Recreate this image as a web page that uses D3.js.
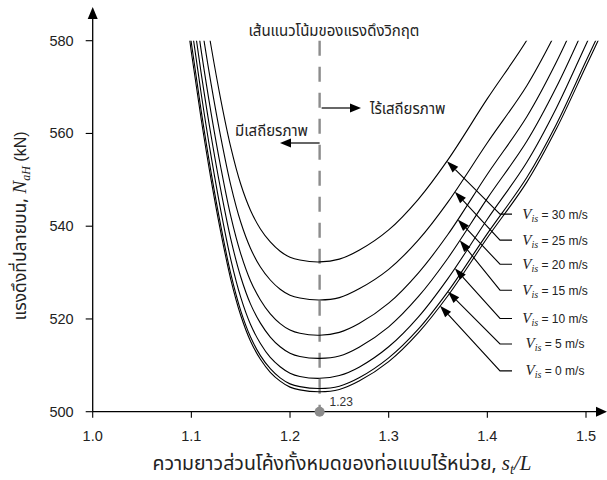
<!DOCTYPE html>
<html>
<head>
<meta charset="utf-8">
<script src="https://cdn.jsdelivr.net/npm/d3@7"></script>
<style>
  body { margin: 0; background: #fff; }
  svg { display: block; }
  .th { font-family: "Noto Sans Thai", "Noto Serif Thai", "Garuda", "Loma", "Tlwg Typo", sans-serif; }
  .num { font-family: "Liberation Sans", Arial, sans-serif; }
  .math { font-family: "Liberation Serif", "Times New Roman", serif; font-style: italic; }
</style>
</head>
<body>
<svg id="chart" width="607" height="480"></svg>
<script>
const sGrid = [1.09, 1.10, 1.11, 1.12, 1.13, 1.14, 1.15, 1.16, 1.17, 1.18, 1.19, 1.20, 1.21,
  1.23, 1.25, 1.27, 1.30, 1.33, 1.36, 1.40, 1.44, 1.47, 1.50, 1.52];

// N_aH (kN) for each inlet speed
const v0 = [594, 577.5, 563, 550, 538.5, 528.5, 520.8, 515.2, 511.3, 508.5, 506.6, 505.3, 504.7,
  504.3, 504.8, 506.6, 510.8, 517.0, 525.0, 537.5, 549.5, 561, 574.5, 583.5];
const v5 = [596.2, 579.5, 564.8, 551.6, 539.9, 529.7, 521.8, 516.1, 512.1, 509.3, 507.3, 506.0, 505.4,
  505.0, 505.5, 507.3, 511.6, 517.8, 525.9, 538.4, 550.5, 562.0, 575.6, 584.6];
const v10 = [600.3, 583.4, 568.5, 555.1, 543.2, 532.8, 524.7, 518.8, 514.7, 511.7, 509.7, 508.3, 507.6,
  507.2, 507.8, 509.6, 514.0, 520.4, 528.7, 541.5, 553.8, 565.5, 579.2, 588.3];
const v15 = [604.8, 587.8, 572.9, 559.5, 547.6, 537.2, 529.1, 523.2, 519.1, 516.1, 514.0, 512.6, 511.9,
  511.5, 512.0, 513.9, 518.3, 524.8, 533.1, 546.0, 558.3, 570.0, 583.7];
const v20 = [609.8, 592.8, 577.8, 564.4, 552.5, 542.1, 534.1, 528.2, 524.1, 521.1, 519.0, 517.6, 516.9,
  516.5, 517.1, 519.0, 523.4, 529.9, 538.2, 551.2, 563.6, 575.4, 589.2];
const v25 = [615.5, 598.7, 583.9, 570.7, 559.0, 548.8, 540.9, 535.2, 531.2, 528.4, 526.4, 525.1, 524.5,
  524.1, 524.6, 526.5, 530.7, 537.0, 545.2, 558.0, 570.3, 582.0];
const v30 = [623.4, 606.7, 592.0, 578.8, 567.1, 557.0, 549.1, 543.4, 539.4, 536.6, 534.6, 533.3, 532.7,
  532.3, 532.9, 534.8, 539.2, 545.8, 554.3, 567.5, 580.1, 591.6];

const speeds = [0, 5, 10, 15, 20, 25, 30];
const series = [v0, v5, v10, v15, v20, v25, v30];
// where each label arrow touches its curve (s) and the label row (kN)
const arrowS = [1.352, 1.360, 1.367, 1.372, 1.370, 1.367, 1.359];
const labelN = [508.8, 514.6, 520.1, 526.2, 531.8, 537.0, 542.6];

const xTicks = [1.0, 1.1, 1.2, 1.3, 1.4, 1.5];
const yTicks = [500, 520, 540, 560, 580];
const sCrit = 1.23;

const svg = d3.select("#chart");
const x = d3.scaleLinear().domain([1.0, 1.5]).range([92.7, 586]);
const y = d3.scaleLinear().domain([500, 580]).range([411.7, 40.7]);
const x0 = x(1.0), y0 = y(500);

const defs = svg.append("defs");
defs.append("clipPath").attr("id", "plot")
  .append("rect").attr("x", x0).attr("y", y(580)).attr("width", 607 - x0).attr("height", y0 - y(580));

// critical line (drawn under the curves)
svg.append("line")
  .attr("x1", x(sCrit)).attr("x2", x(sCrit))
  .attr("y1", y(580)).attr("y2", y0)
  .attr("stroke", "#8c8c8c").attr("stroke-width", 2.4)
  .attr("stroke-dasharray", "15,11");

// curves
const line = d3.line()
  .x((d) => x(d[0]))
  .y((d) => y(d[1]))
  .curve(d3.curveCatmullRom.alpha(0.5));

svg.append("g").attr("clip-path", "url(#plot)")
  .selectAll("path")
  .data(series)
  .enter()
  .append("path")
  .attr("d", (vals) => line(vals.map((v, i) => [sGrid[i], v])))
  .attr("fill", "none")
  .attr("stroke", "#000")
  .attr("stroke-width", 1.1);

// axes
const axisG = svg.append("g").attr("stroke", "#000").attr("stroke-width", 1.3);
axisG.append("line").attr("x1", x0).attr("x2", 598).attr("y1", y0).attr("y2", y0);
axisG.append("line").attr("x1", x0).attr("x2", x0).attr("y1", y0).attr("y2", 18);
svg.append("path").attr("d", `M607,${y0} L596,${y0 - 5} L596,${y0 + 5} Z`).attr("fill", "#000");
svg.append("path").attr("d", `M${x0},7 L${x0 - 5},19 L${x0 + 5},19 Z`).attr("fill", "#000");

svg.append("g").selectAll("line").data(xTicks).enter().append("line")
  .attr("x1", (d) => x(d)).attr("x2", (d) => x(d))
  .attr("y1", y0).attr("y2", y0 + 6)
  .attr("stroke", "#000").attr("stroke-width", 1.1);
svg.append("g").selectAll("text").data(xTicks).enter().append("text")
  .attr("class", "num")
  .attr("x", (d) => x(d)).attr("y", y0 + 29)
  .attr("text-anchor", "middle")
  .attr("font-size", 14.5)
  .attr("fill", "#222")
  .text((d) => d.toFixed(1));

svg.append("g").selectAll("line").data(yTicks).enter().append("line")
  .attr("x1", x0 - 7).attr("x2", x0)
  .attr("y1", (d) => y(d)).attr("y2", (d) => y(d))
  .attr("stroke", "#000").attr("stroke-width", 1.1);
svg.append("g").selectAll("text").data(yTicks).enter().append("text")
  .attr("class", "num")
  .attr("x", x0 - 19).attr("y", (d) => y(d) + 5)
  .attr("text-anchor", "end")
  .attr("font-size", 14.5)
  .attr("fill", "#222")
  .text((d) => d);

// marker at 1.23
svg.append("circle").attr("cx", x(sCrit)).attr("cy", y0).attr("r", 5).attr("fill", "#8c8c8c");
svg.append("text").attr("class", "num")
  .attr("x", x(sCrit) + 10).attr("y", y0 - 6)
  .attr("font-size", 12).attr("fill", "#333").text("1.23");

// annotations for the critical line
svg.append("text").attr("class", "th")
  .attr("x", 334).attr("y", 36).attr("text-anchor", "middle")
  .attr("font-size", 15).attr("fill", "#222")
  .text("เส้นแนวโน้มของแรงดึงวิกฤต");

svg.append("line").attr("x1", x(sCrit) + 2).attr("x2", 352)
  .attr("y1", 108).attr("y2", 108).attr("stroke", "#000").attr("stroke-width", 1.2);
svg.append("path").attr("d", "M361,108 L350,103.5 L350,112.5 Z").attr("fill", "#000");
svg.append("text").attr("class", "th")
  .attr("x", 370).attr("y", 114).attr("font-size", 15).attr("fill", "#222")
  .text("ไร้เสถียรภาพ");

svg.append("line").attr("x1", x(sCrit)).attr("x2", 290)
  .attr("y1", 143).attr("y2", 143).attr("stroke", "#000").attr("stroke-width", 1.2);
svg.append("path").attr("d", "M280,143 L291,138.5 L291,147.5 Z").attr("fill", "#000");
svg.append("text").attr("class", "th")
  .attr("x", 308).attr("y", 136).attr("text-anchor", "end")
  .attr("font-size", 15).attr("fill", "#222")
  .text("มีเสถียรภาพ");

// speed labels with arrows
const interp = (vals, s) => {
  const i = d3.bisectRight(sGrid, s) - 1;
  const t = (s - sGrid[i]) / (sGrid[i + 1] - sGrid[i]);
  return vals[i] + t * (vals[i + 1] - vals[i]);
};
const elbowX = 500, endX = 512, labelX = 555;

speeds.forEach((v, k) => {
  const tx = x(arrowS[k]);
  const ty = y(interp(series[k], arrowS[k]));
  const ly = y(labelN[k]);
  const ang = Math.atan2(ly - ty, elbowX - tx);
  const hx = tx + 12 * Math.cos(ang), hy = ty + 12 * Math.sin(ang);
  const px = -Math.sin(ang) * 4, py = Math.cos(ang) * 4;
  svg.append("path")
    .attr("d", `M${hx},${hy} L${elbowX},${ly} L${endX},${ly}`)
    .attr("fill", "none").attr("stroke", "#000").attr("stroke-width", 1.1);
  svg.append("path")
    .attr("d", `M${tx},${ty} L${hx + px},${hy + py} L${hx - px},${hy - py} Z`)
    .attr("fill", "#000");
  const t = svg.append("text").attr("x", labelX).attr("y", ly + 4.5)
    .attr("text-anchor", "middle").attr("fill", "#222");
  t.append("tspan").attr("class", "math").attr("font-size", 15).text("V");
  t.append("tspan").attr("class", "math").attr("font-size", 10).attr("dy", 3).text("is");
  t.append("tspan").attr("class", "num").attr("font-size", 12).attr("dy", -3).text(" = " + v + " m/s");
});

// axis titles
const xt = svg.append("text").attr("x", 342).attr("y", 470)
  .attr("text-anchor", "middle").attr("fill", "#222");
xt.append("tspan").attr("class", "th").attr("font-size", 19.5).text("ความยาวส่วนโค้งทั้งหมดของท่อแบบไร้หน่วย, ");
xt.append("tspan").attr("class", "math").attr("font-size", 21).text("s");
xt.append("tspan").attr("class", "math").attr("font-size", 14).attr("dy", 4).text("t");
xt.append("tspan").attr("class", "math").attr("font-size", 21).attr("dy", -4).text("/L");

const yt = svg.append("text")
  .attr("transform", "translate(26,226) rotate(-90)")
  .attr("text-anchor", "middle").attr("fill", "#222");
yt.append("tspan").attr("class", "th").attr("font-size", 17.5).text("แรงดึงที่ปลายบน, ");
yt.append("tspan").attr("class", "math").attr("font-size", 19).text("N");
yt.append("tspan").attr("class", "math").attr("font-size", 12).attr("dy", 4).text("aH");
yt.append("tspan").attr("class", "num").attr("font-size", 16).attr("dy", -4).text(" (kN)");
</script>
</body>
</html>
